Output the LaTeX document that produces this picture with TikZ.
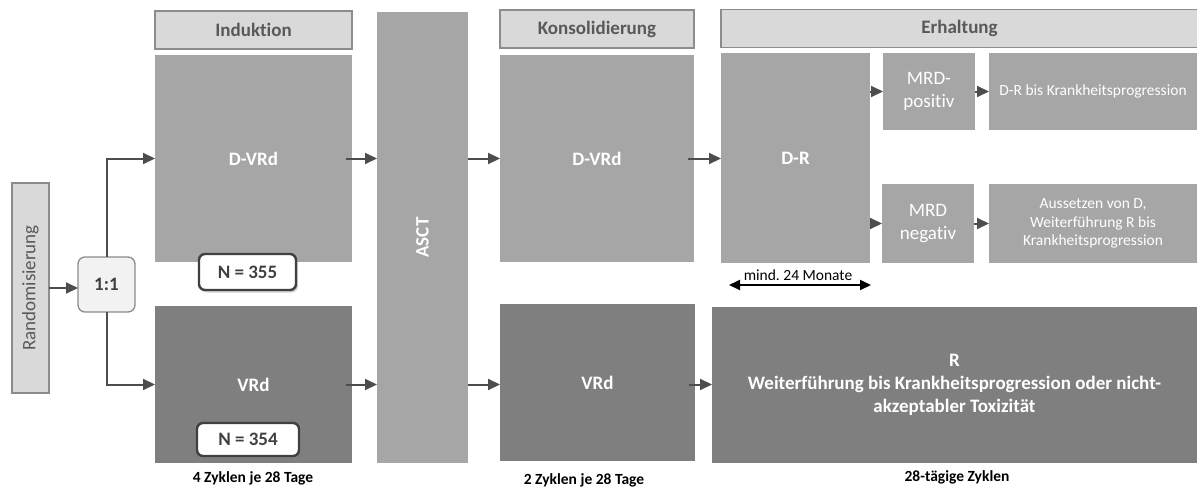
\documentclass[tikz,border=0pt]{standalone}
\usepackage{fontspec}
\setmainfont{Carlito}[Ligatures={NoCommon}]
\usetikzlibrary{arrows.meta,shadows}
\definecolor{hdrfill}{HTML}{D9D9D9}
\definecolor{hdrline}{HTML}{8C8C8C}
\definecolor{hdrtext}{HTML}{595959}
\definecolor{midgray}{HTML}{A6A6A6}
\definecolor{darkgray}{HTML}{7F7F7F}
\definecolor{arrgray}{HTML}{4D4D4D}
\definecolor{ratiofill}{HTML}{F2F2F2}
\definecolor{nline}{HTML}{404040}
\newcommand\fsbig{\fontsize{19}{23}\selectfont}
\newcommand\fssmall{\fontsize{15.5}{18.5}\selectfont}
\begin{document}
\begin{tikzpicture}[x=1pt,y=-1pt,
  base/.style={inner sep=0pt, outer sep=0pt, align=center},
  hdr/.style={base, fill=hdrfill, draw=hdrline, line width=1.3pt, text=hdrtext, font=\fsbig\bfseries, minimum height=38pt},
  midbox/.style={base, fill=midgray, text=white},
  darkbox/.style={base, fill=darkgray, text=white},
  nbox/.style={base, fill=white, draw=nline, line width=2.4pt, rounded corners=6pt, font=\fsbig\bfseries, text=nline,
    drop shadow={opacity=0.35, shadow xshift=2pt, shadow yshift=-2.5pt}},
  conn/.style={draw=arrgray, line width=2pt, -{Triangle[length=12pt,width=11pt]}},
  conns/.style={conn, shorten <=-6pt},
  note/.style={base, font=\fssmall\bfseries, text=black}]
\useasboundingbox (0,0) rectangle (1197,490);

% headers
\node[hdr, minimum width=197pt] (hind) at (253.5,30) {Induktion};
\node[hdr, minimum width=194pt] (hkon) at (597,29) {Konsolidierung};
\node[hdr, minimum width=477pt] (herh) at (959.5,28.5) {Erhaltung};

% left
\node[base, fill=hdrfill, draw=hdrline, line width=1.3pt, text=hdrtext, minimum width=37pt, minimum height=210pt] (rand) at (30.5,288) {};
\node[base, rotate=90, font=\fsbig, text=hdrtext] (randt) at (rand.center) {Randomisierung};
\node[base, fill=ratiofill, draw=hdrline, line width=1.3pt, rounded corners=7pt, minimum width=57pt, minimum height=55pt, font=\fsbig\bfseries, text=nline] (ratio) at (106.5,284.5) {1:1};

% induction
\node[midbox, minimum width=197pt, minimum height=207pt, font=\fsbig\bfseries] (dvrd1) at (253.5,158.5) {D-VRd};
\node[darkbox, minimum width=197pt, minimum height=157pt, font=\fsbig\bfseries] (vrd1) at (253.5,384.5) {VRd};

% ASCT
\node[midbox, minimum width=91pt, minimum height=451pt] (asct) at (422.5,237.5) {};
\node[base, rotate=90, font=\fsbig\bfseries, text=white] (asctt) at (asct.center) {ASCT};

% consolidation
\node[midbox, minimum width=194pt, minimum height=207pt, font=\fsbig\bfseries] (dvrd2) at (597,158.5) {D-VRd};
\node[darkbox, minimum width=195pt, minimum height=157pt, font=\fsbig\bfseries] (vrd2) at (597.5,382.5) {VRd};

% maintenance
\node[midbox, minimum width=149pt, minimum height=210pt, font=\fsbig\bfseries] (dr) at (795.5,158) {D-R};
\node[midbox, minimum width=92pt, minimum height=77pt, font=\fsbig] (mrdp) at (929,91.5) {MRD-\\positiv};
\node[midbox, minimum width=208pt, minimum height=77pt, font=\fssmall] (drbis) at (1093,91.5) {D-R bis Krankheitsprogression};
\node[midbox, minimum width=92pt, minimum height=79pt, font=\fsbig] (mrdn) at (928,223.5) {MRD\\negativ};
\node[midbox, minimum width=208pt, minimum height=79pt, font=\fssmall] (auss) at (1093,223.5) {Aussetzen von D,\\Weiterführung R bis\\Krankheitsprogression};
\node[darkbox, minimum width=485pt, minimum height=156pt, font=\fsbig\bfseries, align=center] (rbox) at (954.5,385) {R\\Weiterführung bis Krankheitsprogression oder nicht-\\akzeptabler Toxizität};

% bottom notes
\node[note] (c1) at (253,478) {4 Zyklen je 28 Tage};
\node[note] (c2) at (584,480) {2 Zyklen je 28 Tage};
\node[note] (c3) at (957,477) {28-tägige Zyklen};

% mind. 24 Monate
\coordinate (m1) at (729,285);
\coordinate (m2) at (871,285);
\draw[line width=2pt, {Triangle[length=11pt,width=10pt]}-{Triangle[length=11pt,width=10pt]}] (m1) -- (m2);
\node[base, font=\fssmall, text=black] (mind) at (798,275) {mind.\ 24 Monate};

% connectors
\draw[conn] (rand.east) -- (ratio.west |- rand.east);
\draw[conn] (ratio.north) |- (dvrd1.west);
\draw[conn] (ratio.south) |- (vrd1.west);
\draw[conns] (dvrd1.east) -- (asct.west |- dvrd1.east);
\draw[conns] (vrd1.east) -- (asct.west |- vrd1.east);
\draw[conn] (asct.east |- dvrd2.west) -- (dvrd2.west);
\draw[conn] (asct.east |- vrd1.east) -- (vrd2.west |- vrd1.east);
\draw[conns] (dvrd2.east) -- (dr.west |- dvrd2.east);
\draw[conns] (vrd2.east |- vrd1.east) -- (rbox.west |- vrd1.east);
\draw[conn] (dr.east |- mrdp.west) -- (mrdp.west);
\draw[conn] (dr.east |- mrdn.west) -- (mrdn.west);
\draw[conn] (mrdp.east) -- (drbis.west);
\draw[conn] (mrdn.east) -- (auss.west);

% N boxes on top
\node[nbox, minimum width=97pt, minimum height=36pt] (n1) at (247.5,272) {N = 355};
\node[nbox, minimum width=102pt, minimum height=33pt] (n2) at (248,439.5) {N = 354};
\end{tikzpicture}
\end{document}
